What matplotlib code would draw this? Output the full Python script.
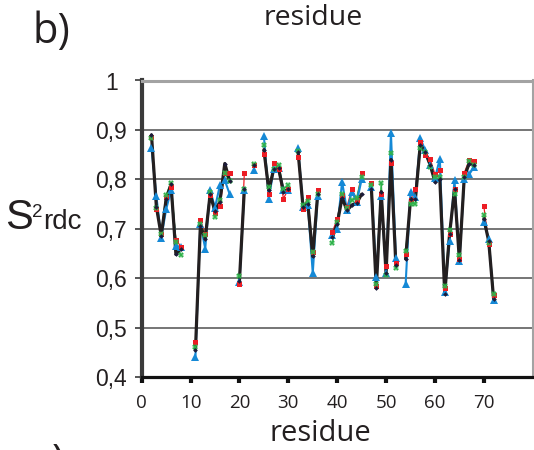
import matplotlib
matplotlib.use("Agg")
import matplotlib.pyplot as plt
import numpy as np

# ---- data (residues 2..72, None = missing) ----
residues = list(range(2, 73))
red = [0.885, 0.739, 0.690, 0.764, 0.785, 0.678, 0.664, None, None, 0.470, 0.718, 0.690, 0.768, 0.732, 0.746, 0.813, 0.813, None, 0.588, 0.813, None, 0.830, None, 0.851, 0.770, 0.834, 0.820, 0.761, 0.780, None, 0.846, 0.739, 0.764, 0.653, 0.779, None, None, 0.693, 0.720, 0.768, 0.744, 0.781, 0.758, 0.812, None, 0.793, 0.585, 0.770, 0.624, 0.834, 0.630, None, 0.649, 0.758, 0.781, 0.875, 0.850, 0.842, 0.810, 0.819, 0.580, 0.690, 0.780, 0.639, 0.813, 0.839, 0.838, None, 0.746, 0.670, 0.565]
green = [0.884, 0.743, 0.690, 0.768, 0.793, 0.673, 0.646, None, None, 0.460, 0.710, 0.687, 0.775, 0.724, 0.758, 0.812, 0.796, None, 0.605, 0.780, None, 0.832, None, 0.870, 0.785, 0.820, 0.829, 0.781, 0.788, None, 0.858, 0.748, 0.756, 0.653, 0.770, None, None, 0.671, 0.714, 0.771, 0.741, 0.758, 0.763, 0.805, None, 0.788, 0.588, 0.792, 0.607, 0.853, 0.621, None, 0.655, 0.751, 0.751, 0.863, 0.856, 0.825, 0.805, 0.805, 0.585, 0.697, 0.771, 0.646, 0.805, 0.838, 0.829, None, 0.727, 0.672, 0.568]
blue = [0.863, 0.766, 0.682, 0.739, 0.778, 0.666, 0.663, None, None, 0.441, 0.710, 0.660, 0.778, 0.743, 0.788, 0.798, 0.770, None, 0.592, 0.778, None, 0.819, None, 0.888, 0.761, 0.820, 0.823, 0.778, 0.778, None, 0.863, 0.745, 0.748, 0.610, 0.766, None, None, 0.687, 0.700, 0.795, 0.737, 0.775, 0.754, 0.800, None, 0.785, 0.603, 0.766, 0.610, 0.893, 0.641, None, 0.588, 0.775, 0.765, 0.883, 0.859, 0.830, 0.802, 0.842, 0.571, 0.676, 0.798, 0.635, 0.800, 0.810, 0.825, None, 0.714, 0.680, 0.556]
black = [0.890, 0.745, 0.686, 0.760, 0.790, 0.648, 0.660, None, None, 0.455, 0.705, 0.680, 0.770, 0.735, 0.755, 0.832, 0.797, None, 0.595, 0.780, None, 0.830, None, 0.860, 0.778, 0.820, 0.822, 0.775, 0.780, None, 0.855, 0.745, 0.750, 0.644, 0.770, None, None, 0.683, 0.710, 0.763, 0.737, 0.748, 0.752, 0.770, None, 0.781, 0.580, 0.775, 0.610, 0.840, 0.627, None, 0.639, 0.760, 0.760, 0.870, 0.855, 0.830, 0.795, 0.800, 0.568, 0.690, 0.780, 0.637, 0.805, 0.832, 0.830, None, 0.720, 0.675, 0.558]

xticks = [0, 10, 20, 30, 40, 50, 60, 70]
yticks = [0.4, 0.5, 0.6, 0.7, 0.8, 0.9, 1.0]
ytick_labels = ["0,4", "0,5", "0,6", "0,7", "0,8", "0,9", "1"]


def arr(v):
    return np.array([np.nan if a is None else a for a in v], dtype=float)


W, H = 534, 450
fig = plt.figure(figsize=(W / 100, H / 100), dpi=100)
fig.patch.set_facecolor("white")

ax = fig.add_axes([141.7 / W, 1 - 377 / H, (532.7 - 141.7) / W, (377 - 80.5) / H])
ax.set_xlim(0, 80)
ax.set_ylim(0.4, 1.0)

# grid lines
for yv in [0.5, 0.6, 0.7, 0.8, 0.9]:
    ax.axhline(yv, color="#5e5e5e", lw=1.2, zorder=1)

series = [
    ("red", red, "#ec1c24", 0.9, "s", 3.6),
    ("green", green, "#2fb24a", 1.1, "X", 4.2),
    ("blue", blue, "#1589d6", 1.5, "^", 5.2),
    ("black", black, "#231f20", 2.3, "D", 2.4),
]
x = np.array(residues, dtype=float)
for i, (name, vals, col, lw, mk, ms) in enumerate(series):
    ax.plot(x, arr(vals), color=col, lw=lw, zorder=2 + i * 0.1, solid_capstyle="round")
marker_order = [2, 0, 1, 3]
for j, i in enumerate(marker_order):
    name, vals, col, lw, mk, ms = series[i]
    mcol = "#1c1c3a" if name == "black" else col
    ax.plot(x, arr(vals), linestyle="none", marker=mk, ms=ms, color=mcol,
            markeredgewidth=0, zorder=3 + j * 0.1)

# spines
ax.spines["left"].set_color("#3a3a3a")
ax.spines["left"].set_linewidth(3)
ax.spines["bottom"].set_color("#111111")
ax.spines["bottom"].set_linewidth(2.3)
ax.spines["right"].set_color("#a3a3a3")
ax.spines["right"].set_linewidth(1.5)
ax.spines["top"].set_color("#a3a3a3")
ax.spines["top"].set_linewidth(2.2)

ax.set_xticks(xticks)
ax.set_xticklabels([str(t) for t in xticks], fontfamily="Open Sans", fontsize=13.5, color="#231f20")
ax.set_yticks(yticks)
ax.set_yticklabels(ytick_labels, fontfamily="Liberation Sans", fontsize=16.5, color="#231f20", ha="center")
ax.tick_params(axis="x", direction="out", length=4, width=3, color="#111111", pad=8)
ax.tick_params(axis="y", direction="out", length=5, width=1.2, color="#3a3a3a", pad=17)

# texts
fig.text(33 / W, 1 - 43 / H, "b)", fontfamily="Open Sans", fontsize=30, color="#231f20",
         ha="left", va="baseline")
fig.text(33 / W, 1 - 474 / H, "c)", fontfamily="Open Sans", fontsize=30, color="#231f20",
         ha="left", va="baseline")
fig.text(313 / W, 1 - 25 / H, "residue", fontfamily="Open Sans", fontsize=20.5, color="#231f20",
         ha="center", va="baseline")
fig.text(320 / W, 1 - 441 / H, "residue", fontfamily="Open Sans", fontsize=21, color="#231f20",
         ha="center", va="baseline")
fig.text(5 / W, 1 - 229 / H, "S", fontfamily="Liberation Sans", fontsize=30, color="#231f20",
         ha="left", va="baseline")
fig.text(32 / W, 1 - 217 / H, "2", fontfamily="Liberation Sans", fontsize=13.5, color="#231f20",
         ha="left", va="baseline")
fig.text(43 / W, 1 - 229 / H, "rdc", fontfamily="Liberation Sans", fontsize=20, color="#231f20",
         ha="left", va="baseline")

fig.savefig("out.png", dpi=100)
